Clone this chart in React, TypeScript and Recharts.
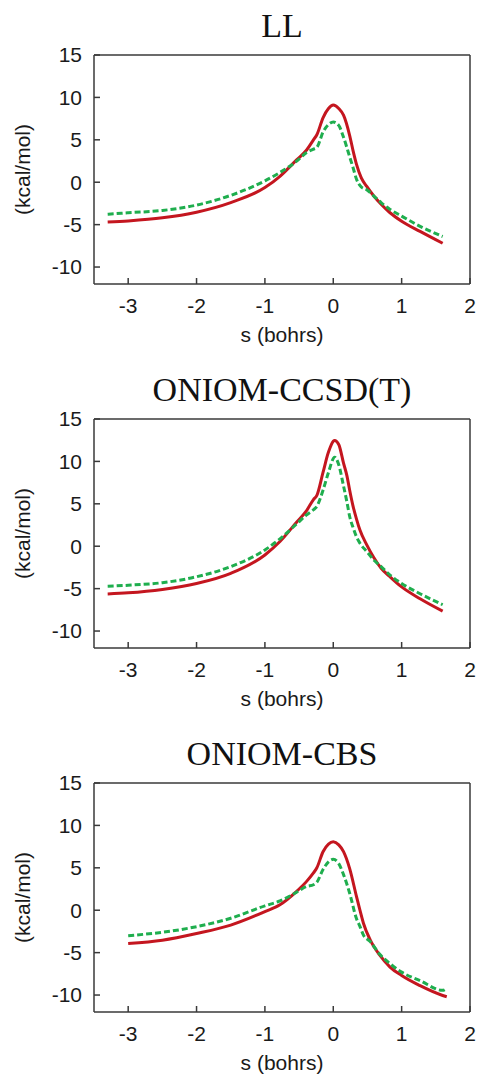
import React from "react";
import { LineChart, Line, XAxis, YAxis, Label } from "recharts";

// reaction coordinate s (bohrs), kcal/mol
const X_TICKS = [-3, -2, -1, 0, 1, 2];
const Y_TICKS = [-10, -5, 0, 5, 10, 15];

const S_LL = [-3.3, -3, -2.5, -2, -1.5, -1, -0.78, -0.54, -0.39, -0.29, -0.24, -0.15, -0.07, 0, 0.08, 0.15, 0.24, 0.29, 0.34, 0.41, 0.49, 0.59, 0.7, 0.83, 1.0, 1.27, 1.6];
const RED_LL = [-4.7, -4.56, -4.2, -3.53, -2.4, -0.63, 0.7, 2.6, 3.8, 5.0, 5.6, 7.6, 8.7, 9.1, 8.7, 7.9, 5.5, 3.7, 2.1, 0.5, -0.5, -1.6, -2.6, -3.6, -4.6, -5.8, -7.2];
const GREEN_LL = [-3.77, -3.6, -3.33, -2.7, -1.55, 0.16, 1.15, 2.45, 3.5, 3.9, 4.1, 5.9, 6.8, 7.1, 6.7, 5.3, 3.0, 1.7, 0.36, -0.56, -0.9, -1.6, -2.4, -3.2, -4.0, -5.2, -6.4];

const S_CC = [-3.3, -3, -2.5, -2, -1.5, -1, -0.78, -0.54, -0.39, -0.29, -0.24, -0.15, -0.07, 0.02, 0.08, 0.15, 0.2, 0.24, 0.29, 0.34, 0.39, 0.49, 0.59, 0.7, 0.83, 1.0, 1.27, 1.6];
const RED_CC = [-5.63, -5.5, -5.1, -4.4, -3.2, -1.03, 0.55, 2.8, 4.2, 5.5, 6.0, 8.7, 11.1, 12.46, 12.0, 9.8, 8.3, 6.6, 4.7, 3.2, 1.9, 0.16, -1.3, -2.6, -3.6, -4.8, -6.2, -7.66];
const GREEN_CC = [-4.72, -4.6, -4.3, -3.6, -2.4, -0.44, 0.87, 2.6, 3.7, 4.3, 4.7, 6.6, 8.7, 10.5, 9.6, 7.1, 5.2, 3.5, 2.2, 1.1, 0.36, -0.63, -1.6, -2.4, -3.4, -4.4, -5.6, -6.9];

const S_CBS = [-3, -2.5, -2, -1.5, -1, -0.78, -0.54, -0.39, -0.29, -0.24, -0.15, -0.07, 0, 0.08, 0.15, 0.24, 0.34, 0.39, 0.44, 0.54, 0.68, 0.83, 1.0, 1.27, 1.6, 1.66];
const RED_CBS = [-3.93, -3.53, -2.74, -1.75, -0.16, 0.65, 2.2, 3.4, 4.4, 5.0, 6.9, 7.8, 8.06, 7.7, 6.9, 4.9, 1.6, 0.0, -1.5, -3.5, -5.3, -6.7, -7.7, -8.9, -10.05, -10.2];
const GREEN_CBS = [-3.0, -2.6, -1.94, -0.95, 0.52, 1.1, 2.1, 2.8, 3.0, 3.3, 4.8, 5.7, 6.0, 5.5, 4.2, 2.0, -1.0, -1.9, -2.9, -3.7, -5.2, -6.3, -7.3, -8.3, -9.45, -9.2];

const PANELS = [
  { title: "LL", s: S_LL, red: RED_LL, green: GREEN_LL },
  { title: "ONIOM-CCSD(T)", s: S_CC, red: RED_CC, green: GREEN_CC },
  { title: "ONIOM-CBS", s: S_CBS, red: RED_CBS, green: GREEN_CBS },
];

const AXIS = "#3a3a3a";
const SANS = "Liberation Sans, Arial, sans-serif";
const TEXT = "#1a1a1a";
const FONT = 21;
const TICK_LEN = 6;

// bottom tick: label plus a short inward mark at the axis line
function BottomTick(props: any) {
  const { x, y, payload } = props;
  const axisY = y - 14;
  return (
    <g>
      <line x1={x} x2={x} y1={axisY} y2={axisY - TICK_LEN} stroke={AXIS} strokeWidth={1.5} />
      <text x={x} y={y} dy="0.71em" textAnchor="middle" fontSize={FONT} fontFamily={SANS} fill={TEXT}>
        {payload.value}
      </text>
    </g>
  );
}

function LeftTick(props: any) {
  const { x, y, payload } = props;
  const axisX = x + 12;
  return (
    <g>
      <line x1={axisX} x2={axisX + TICK_LEN} y1={y} y2={y} stroke={AXIS} strokeWidth={1.5} />
      <text x={x} y={y} dy="0.355em" textAnchor="end" fontSize={FONT} fontFamily={SANS} fill={TEXT}>
        {payload.value}
      </text>
    </g>
  );
}

function Panel({ title, s, red, green }: { title: string; s: number[]; red: number[]; green: number[] }) {
  const data = s.map((x, i) => ({ s: x, red: red[i], green: green[i] }));
  return (
    <LineChart width={480} height={364} data={data} margin={{ top: 55, right: 10, bottom: 0, left: 0 }}>
      <XAxis
        xAxisId="b"
        type="number"
        dataKey="s"
        domain={[-3.5, 2]}
        ticks={X_TICKS}
        interval={0}
        allowDataOverflow
        height={80}
        tickSize={0}
        tickLine={false}
        tickMargin={14}
        stroke={AXIS}
        strokeWidth={1.5}
        tick={<BottomTick />}
      >
        <Label
          content={(p: any) => (
            <text x={p.viewBox.x + p.viewBox.width / 2} y={p.viewBox.y + 58} textAnchor="middle" fontSize={FONT} fontFamily={SANS} fill={TEXT}>
              s (bohrs)
            </text>
          )}
        />
      </XAxis>
      <XAxis
        xAxisId="t"
        orientation="top"
        mirror
        type="number"
        domain={[-3.5, 2]}
        ticks={X_TICKS}
        interval={0}
        allowDataOverflow
        height={1}
        tickSize={TICK_LEN}
        stroke={AXIS}
        strokeWidth={1.5}
        tick={false}
      >
        <Label
          content={(p: any) => (
            <text x={p.viewBox.x + p.viewBox.width / 2} y={p.viewBox.y - 18} textAnchor="middle" fontSize={34} fontFamily="Liberation Serif, Times New Roman, serif" fill="#111">
              {title}
            </text>
          )}
        />
      </XAxis>
      <YAxis
        yAxisId="l"
        type="number"
        domain={[-12, 15]}
        ticks={Y_TICKS}
        interval={0}
        allowDataOverflow
        width={94}
        tickSize={0}
        tickLine={false}
        tickMargin={12}
        stroke={AXIS}
        strokeWidth={1.5}
        tick={<LeftTick />}
      >
        <Label
          content={(p: any) => {
            const cx = p.viewBox.x + 22;
            const cy = p.viewBox.y + p.viewBox.height / 2;
            return (
              <text x={cx} y={cy} transform={`rotate(-90, ${cx}, ${cy})`} textAnchor="middle" dominantBaseline="central" fontSize={FONT} fontFamily={SANS} fill={TEXT}>
                (kcal/mol)
              </text>
            );
          }}
        />
      </YAxis>
      <YAxis
        yAxisId="r"
        orientation="right"
        mirror
        type="number"
        domain={[-12, 15]}
        ticks={Y_TICKS}
        interval={0}
        allowDataOverflow
        width={1}
        tickSize={TICK_LEN}
        stroke={AXIS}
        strokeWidth={1.5}
        tick={false}
      />
      <Line xAxisId="b" yAxisId="l" type="monotone" dataKey="red" stroke="#c4161f" strokeWidth={3} dot={false} isAnimationActive={false} />
      <Line xAxisId="b" yAxisId="l" type="monotone" dataKey="green" stroke="#1fae4e" strokeWidth={3} strokeDasharray="6 3" dot={false} isAnimationActive={false} />
    </LineChart>
  );
}

export default function App() {
  return (
    <div style={{ width: 480, height: 1074, overflow: "hidden", background: "#fff" }}>
      <style>{"body{margin:0}"}</style>
      {PANELS.map((p) => (
        <Panel key={p.title} {...p} />
      ))}
    </div>
  );
}
